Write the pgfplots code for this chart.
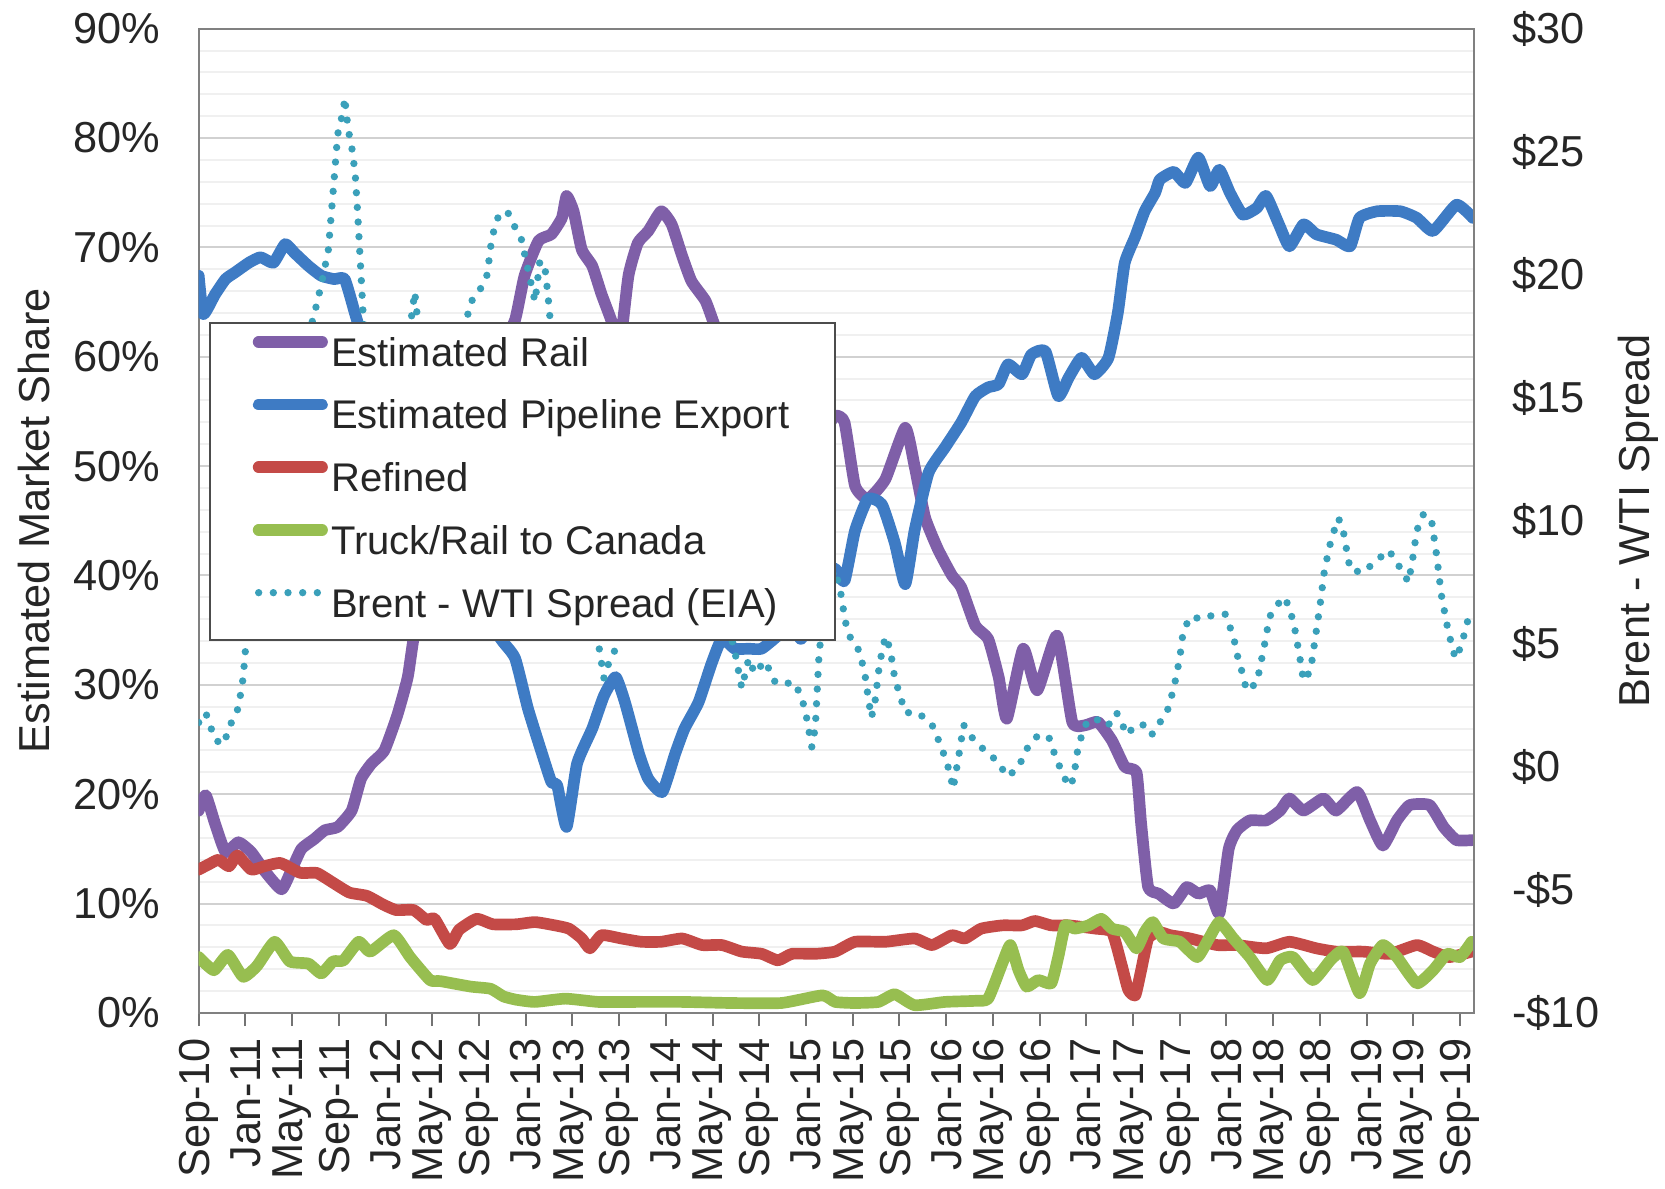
\documentclass[border=0pt]{standalone}
\usepackage{pgfplots}
\pgfplotsset{compat=1.18}
\usepackage{fontspec}
\setmainfont{Liberation Sans}

\definecolor{rail}{HTML}{7F5FA8}
\definecolor{pipe}{HTML}{3E7BC4}
\definecolor{refined}{HTML}{C44A47}
\definecolor{truck}{HTML}{97BE50}
\definecolor{spread}{HTML}{3AA0BA}

\pgfplotsset{
  chartbase/.style={
    width=382.5pt, height=295.2pt, scale only axis,
    xmin=0, xmax=109.2,
    at={(0pt,0pt)}, anchor=south west,
    tick label style={font=\fontsize{13}{15}\selectfont, text=black!85},
    label style={font=\fontsize{13}{15}\selectfont, text=black!85},
    axis line style={draw=black!50, line width=0.6pt},
  },
  serie/.style={line width=3.5pt, line join=round, line cap=round, smooth, tension=0.3},
  spreadline/.style={spread, line width=2.2pt, line cap=round, dash pattern=on 0pt off 4.4pt},
}

\begin{document}
\begin{tikzpicture}
\begin{axis}[chartbase, name=ax1,
  ymin=0, ymax=90,
  ytick={0,10,...,90},
  yticklabels={0\%,10\%,20\%,30\%,40\%,50\%,60\%,70\%,80\%,90\%},
  minor ytick={2,4,...,88},
  ymajorgrids, yminorgrids,
  major grid style={draw=black!18, line width=0.6pt},
  minor grid style={draw=black!6, line width=0.6pt},
  ytick style={draw=none},
  yticklabel style={xshift=-4pt},
  xtick={0,4,...,108},
  xticklabels={Sep-10,Jan-11,May-11,Sep-11,Jan-12,May-12,Sep-12,Jan-13,May-13,Sep-13,Jan-14,May-14,Sep-14,Jan-15,May-15,Sep-15,Jan-16,May-16,Sep-16,Jan-17,May-17,Sep-17,Jan-18,May-18,Sep-18,Jan-19,May-19,Sep-19},
  xtick pos=bottom, tick align=outside, major tick length=4pt,
  xtick style={draw=black!55, line width=0.6pt},
  xticklabel style={rotate=90, anchor=east},
  ylabel={Estimated Market Share},
  ylabel style={at={(axis description cs:-0.129,0.5)}, anchor=center},
]
% Estimated Rail
\addplot[serie, rail] coordinates {
(0,18.5) (0.6,19.9) (1.4,17.3) (2.3,14.7) (3.4,15.6) (4.5,14.7) (5.7,12.9) (7.1,11.3)
(8.0,13.2) (8.8,15.0) (9.9,15.9) (10.8,16.7) (11.9,17.0) (13.1,18.5) (13.9,21.4) (14.8,22.8)
(15.9,24.0) (17.0,27.2) (17.9,30.7) (18.5,34.8) (20,40) (22,47) (24,55) (26,61)
(27.1,63.4) (27.9,67.4) (29.1,70.6) (30.2,71.2) (31.1,72.7) (31.5,74.7) (32.1,73.3) (32.8,69.8)
(33.7,68.3) (34.5,65.7) (35.4,63.1) (36.0,60.5) (36.8,67.4) (37.6,70.4) (38.5,71.5) (39.6,73.3)
(40.5,72.1) (41.4,69.2) (42.2,66.9) (43.4,65.1) (44.2,62.8) (46,58) (48,55) (50,52)
(52,50) (53.5,53) (54.5,54.6) (55.3,54.0) (56.2,48.2) (57.3,47.0) (58.8,48.8) (60.5,53.5)
(61.3,50.0) (62.2,45.3) (63.3,42.4) (64.5,40.0) (65.3,38.9) (66.5,35.4) (67.6,34.2) (68.5,30.7)
(69.2,26.9) (70.6,33.3) (71.8,29.5) (73.5,34.5) (74.8,26.6) (75.9,26.3) (77.0,26.6) (78.2,24.9)
(79.3,22.5) (80.3,22.0) (80.7,17.3) (81.3,11.5) (82.2,10.9) (83.5,10.0) (84.6,11.5) (85.6,10.9)
(86.6,11.2) (87.4,9.1) (88.2,15.0) (88.9,16.7) (90.0,17.6) (91.4,17.6) (92.6,18.5) (93.4,19.6)
(94.6,18.5) (96.3,19.6) (97.4,18.5) (99.2,20.2) (100.3,17.6) (101.4,15.3) (102.6,17.6) (103.7,19.0)
(105.4,19.0) (106.6,17.0) (107.7,15.8) (109.1,15.8)
};
% Estimated Pipeline Export
\addplot[serie, pipe] coordinates {
(0,67.4) (0.4,63.9) (1.4,65.7) (2.3,67.1) (3.1,67.7) (4.3,68.6) (5.3,69.1) (6.4,68.6)
(7.4,70.3) (8.2,69.5) (9.4,68.3) (10.5,67.4) (11.6,67.1) (12.5,67.1) (13.4,63.9) (14.5,60)
(16,56) (18,51) (20,46) (22,41) (24,37) (26,34) (27.1,32.4) (28.2,27.8)
(29.4,23.7) (30.2,21.1) (30.7,20.8) (31.5,17.0) (32.4,22.8) (33.7,26.0) (34.7,29.0) (35.7,30.7)
(36.5,28.4) (37.7,23.7) (38.5,21.4) (39.7,20.2) (40.8,23.7) (41.6,26.0) (42.8,28.4) (43.9,31.9)
(44.8,34.2) (45.9,33.3) (47.1,33.3) (48.2,33.3) (49.6,34.5) (50.8,35.7) (51.6,34.2) (52.8,38.0)
(53.6,40.0) (54.5,40.6) (55.3,39.5) (56.2,44.1) (57.3,47.0) (58.5,46.5) (59.6,43.0) (60.5,39.2)
(61.3,44.1) (62.5,49.4) (63.9,51.7) (65.3,54.0) (66.5,56.4) (67.6,57.2) (68.5,57.5) (69.3,59.3)
(70.5,58.4) (71.3,60.2) (72.5,60.5) (73.6,56.4) (74.5,58.1) (75.6,59.9) (76.7,58.4) (77.9,59.9)
(78.7,64.0) (79.3,68.6) (80.2,71.0) (81.0,73.3) (81.9,75.0) (82.3,76.2) (83.5,76.9) (84.5,75.9)
(85.6,78.2) (86.6,75.6) (87.4,77.1) (88.3,75.0) (89.4,73.0) (90.6,73.6) (91.4,74.7) (92.5,72.1)
(93.4,70.1) (94.6,72.1) (95.7,71.2) (97.4,70.7) (98.6,70.1) (99.4,72.7) (100.9,73.3) (102.9,73.3)
(104.3,72.7) (105.7,71.5) (107.7,73.9) (109.1,72.7)
};
% Refined
\addplot[serie, refined] coordinates {
(0,13.1) (0.9,13.6) (1.7,14.0) (2.6,13.4) (3.3,14.4) (4.5,13.1) (5.6,13.4) (7.0,13.7)
(8.7,12.8) (10.1,12.8) (11.5,11.9) (12.9,11.0) (14.4,10.7) (15.8,9.9) (16.9,9.4) (18.4,9.4)
(19.5,8.5) (20.2,8.6) (21.5,6.3) (22.3,7.6) (23.8,8.6) (25.2,8.1) (27.2,8.1) (28.8,8.3)
(30.5,8.0) (31.7,7.7) (32.8,6.8) (33.5,5.9) (34.5,7.1) (36.2,6.8) (37.9,6.5) (39.6,6.5)
(41.4,6.8) (43.1,6.2) (44.8,6.2) (46.5,5.6) (48.2,5.4) (49.6,4.8) (50.8,5.4) (52.8,5.4)
(54.5,5.6) (56.2,6.5) (58.8,6.5) (61.3,6.8) (62.8,6.2) (64.5,7.1) (65.6,6.8) (67.0,7.7)
(68.8,8.0) (70.5,8.0) (71.6,8.4) (73.0,8.0) (74.5,8.0) (76.8,7.7) (78.2,7.4) (79.0,4.5)
(79.6,2.1) (80.2,1.6) (80.7,3.9) (81.3,6.8) (82.2,7.4) (83.2,7.1) (84.9,6.8) (87.2,6.2)
(88.9,6.2) (91.4,5.9) (93.4,6.5) (95.7,5.9) (97.4,5.6) (99.7,5.6) (102.0,5.4) (104.3,6.2)
(105.7,5.6) (107.1,5.1) (109.0,5.6)
};
% Truck/Rail to Canada
\addplot[serie, truck] coordinates {
(0,5.1) (1.3,3.9) (2.5,5.3) (3.8,3.3) (5.0,4.3) (6.5,6.5) (7.8,4.7) (9.4,4.5)
(10.5,3.6) (11.5,4.7) (12.4,4.8) (13.7,6.5) (14.7,5.6) (16.7,7.1) (18.1,5.1) (19.8,3.0)
(20.7,2.9) (23.3,2.4) (25.0,2.2) (26.1,1.5) (27.2,1.2) (28.8,1.0) (31.4,1.3) (34.2,1.0)
(37.1,1.0) (41.4,1.0) (45.6,0.9) (49.9,0.9) (53.4,1.6) (54.5,1.0) (56.2,0.9) (58.2,1.0)
(59.6,1.7) (61.3,0.7) (63.9,1.0) (66.5,1.1) (67.6,1.3) (68.8,4.5) (69.5,6.2) (70.2,3.9)
(70.9,2.4) (71.9,3.0) (73.0,2.7) (73.6,5.1) (74.2,8.0) (75.0,7.7) (76.2,8.0) (77.3,8.6)
(78.2,7.7) (79.3,7.4) (80.3,5.9) (81.0,7.4) (81.7,8.3) (82.6,6.8) (84.0,6.5) (85.5,5.1)
(86.5,6.8) (87.4,8.3) (88.6,6.8) (90.0,5.1) (91.5,3.0) (92.6,4.8) (93.7,5.1) (95.4,3.0)
(96.9,4.8) (98.0,5.6) (99.4,1.8) (100.3,4.5) (101.4,6.2) (102.6,5.1) (104.3,2.7) (105.7,3.9)
(106.9,5.4) (108.0,5.1) (109.0,6.5)
};
\end{axis}

\begin{axis}[chartbase, name=ax2,
  ymin=-10, ymax=30,
  ytick={-10,-5,...,30},
  yticklabels={-\$10,-\$5,\$0,\$5,\$10,\$15,\$20,\$25,\$30},
  axis y line*=right, hide x axis,
  ytick style={draw=none},
  yticklabel style={xshift=8pt},
  ylabel={Brent - WTI Spread},
  ylabel style={at={(axis description cs:1.1286,0.5)}, anchor=center},
  legend style={at={(0.0082,0.702)}, anchor=north west,
    draw=black!70, line width=0.6pt, fill=white,
    font=\fontsize{12}{14}\selectfont, text=black!85,
    inner xsep=12.8pt, inner ysep=0.5pt,
    nodes={inner xsep=1pt, inner ysep=3.7pt, text height=8.8pt, text depth=2.6pt}},
  legend cell align=left,
  legend image code/.code={\draw[#1] (0pt,4.2pt) -- (19pt,4.2pt);},
]
\addlegendimage{serie, rail}
\addlegendentry{Estimated Rail}
\addlegendimage{serie, pipe}
\addlegendentry{Estimated Pipeline Export}
\addlegendimage{serie, refined}
\addlegendentry{Refined}
\addlegendimage{serie, truck}
\addlegendentry{Truck/Rail to Canada}
% Brent - WTI spread (right axis)
\addplot[spreadline] coordinates {
(0,1.8) (0.6,2.2) (1.4,1.1) (2.1,0.9) (2.8,1.8) (3.4,2.4) (3.8,3.6) (4.1,5.3)
(5.5,9) (7,13) (8.5,16) (9.9,18.4) (10.5,19.6) (11.1,21.0) (11.6,23.9) (11.9,25.7)
(12.4,26.7) (12.5,27.2) (12.8,25.9) (13.1,25.2) (13.4,24.1) (13.6,22.6) (13.9,20.0) (14.1,18.2)
(15,14) (16,12) (17,13) (18,17.5) (18.5,19.3) (19,17) (20,15) (21,13.5)
(22,15) (23,18.3) (23.3,18.9) (23.9,19.2) (24.7,20.0) (25.1,21.5) (25.6,22.3) (26.4,22.6)
(27.0,22.0) (27.6,21.5) (28.2,20.2) (28.8,18.9) (29.2,20.5) (29.6,20.5) (29.9,19.2) (30.5,16)
(31.5,12) (32.5,9) (33.5,6.5) (34.2,5.1) (34.7,3.6) (35.1,4.2) (35.7,4.8) (36.5,6)
(37.5,9.7) (38.5,15) (39.5,12.6) (40.5,13.4) (41.5,8.2) (42.5,6.9) (43.5,5.6) (44.5,7.5)
(45.3,5.8) (45.9,4.7) (46.5,3.2) (47.1,4.4) (47.6,3.8) (48.5,4.3) (49.4,3.4) (50.2,3.4)
(51.1,3.4) (51.9,2.4) (52.5,0.8) (52.8,1.6) (53.1,4.4) (53.4,6.0) (53.9,7.5) (54.5,8.0)
(55.1,6.8) (55.3,6.0) (55.9,5.1) (56.6,4.7) (57.1,3.6) (57.3,2.9) (57.6,2.0) (57.9,2.6)
(58.3,4.2) (58.8,5.3) (59.2,4.8) (59.6,3.6) (60.5,2.2) (61.6,2.2) (62.8,1.7) (63.6,0.8)
(64.3,-0.2) (64.6,-0.9) (65.1,0.5) (65.5,1.7) (66.2,1.2) (67.0,0.8) (68.2,0.3) (69.3,-0.4)
(70.2,0.0) (71.0,0.8) (71.9,1.3) (72.8,1.2) (73.3,0.5) (73.9,-0.2) (74.5,-0.8) (74.9,-0.5)
(75.3,0.8) (75.9,1.7) (76.8,2.0) (77.3,1.7) (77.9,1.7) (78.6,2.2) (79.5,1.3) (80.2,1.7)
(81.0,1.7) (81.6,1.3) (82.3,1.8) (82.9,2.2) (83.5,3.2) (84.0,4.4) (84.3,5.5) (84.9,6.1)
(86.0,6.0) (87.0,6.2) (87.9,6.2) (88.6,5.3) (89.0,4.4) (89.5,3.6) (89.7,3.1) (90.6,3.4)
(91.2,4.8) (91.7,6.1) (92.4,6.6) (92.9,6.9) (93.4,6.5) (93.9,5.5) (94.3,4.4) (94.6,3.5)
(95.2,3.9) (95.6,5.2) (96.0,6.5) (96.4,8.0) (97.0,9.3) (97.6,10.1) (98.0,9.6) (98.6,8.0)
(99.7,7.9) (100.9,8.4) (101.9,8.8) (102.6,8.3) (103.6,7.5) (104.0,8.6) (104.3,9.6) (104.9,10.3)
(105.6,9.9) (106.0,8.6) (106.4,7.0) (107.0,5.5) (107.6,4.4) (108.1,4.9) (108.7,6.0)
};
\addlegendentry{Brent - WTI Spread (EIA)}
\end{axis}

\pgfresetboundingbox
\path[use as bounding box] ([shift={(-59.6pt,-52.8pt)}]ax1.south west)
  rectangle ([shift={(57.3pt,8.6pt)}]ax1.north east);
\end{tikzpicture}
\end{document}
